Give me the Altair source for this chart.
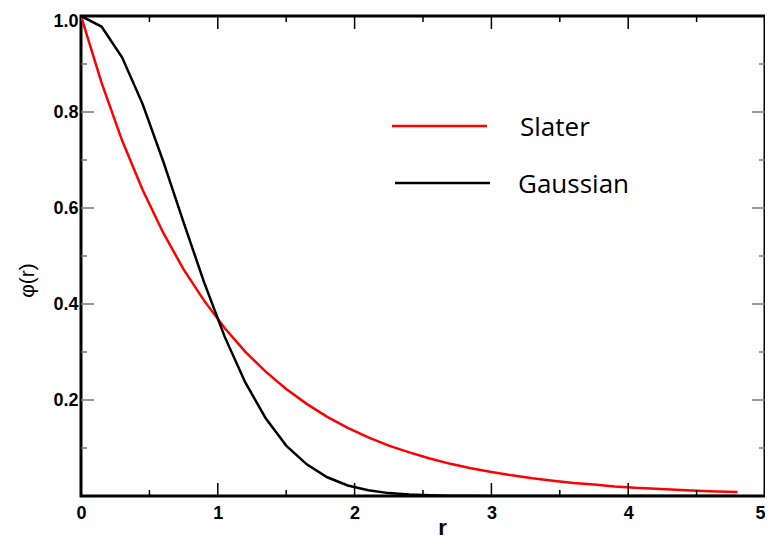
import altair as alt
import pandas as pd

# values
r_vals = [0.0, 0.15, 0.3, 0.45, 0.6, 0.75, 0.9, 1.05, 1.2, 1.35, 1.5, 1.65, 1.8, 1.95,
          2.1, 2.25, 2.4, 2.55, 2.7, 2.85, 3.0, 3.15, 3.3, 3.45, 3.6, 3.75, 3.9, 4.05,
          4.2, 4.35, 4.5, 4.65, 4.8]
slater = [1.0, 0.861, 0.741, 0.638, 0.549, 0.472, 0.407, 0.350, 0.301, 0.259, 0.223,
          0.192, 0.165, 0.142, 0.122, 0.105, 0.091, 0.078, 0.067, 0.058, 0.050, 0.043,
          0.037, 0.032, 0.027, 0.024, 0.020, 0.017, 0.015, 0.013, 0.011, 0.0096, 0.0082]
gaussian = [1.0, 0.978, 0.914, 0.817, 0.698, 0.570, 0.445, 0.332, 0.237, 0.162, 0.105,
            0.066, 0.039, 0.022, 0.012, 0.006, 0.003, 0.0015, 0.0007, 0.0003, 0.0001,
            0.0, 0.0, 0.0, 0.0, 0.0, 0.0, 0.0, 0.0, 0.0, 0.0, 0.0, 0.0]
series_names = ["Slater", "Gaussian"]
series_colors = ["#ff0000", "#000000"]

x_major = [1, 2, 3, 4]
x_minor = [0.5, 1.5, 2.5, 3.5, 4.5]
y_major = [0.2, 0.4, 0.6, 0.8]
y_minor = [0.1, 0.3, 0.5, 0.7, 0.9]
x_labels = [0, 1, 2, 3, 4, 5]
y_labels = [0.2, 0.4, 0.6, 0.8, 1.0]

W, H = 684, 480

df = pd.DataFrame({
    "r": r_vals * 2,
    "phi": slater + gaussian,
    "series": [series_names[0]] * len(r_vals) + [series_names[1]] * len(r_vals),
})

xscale = alt.Scale(domain=[0, 5], nice=False, zero=False)
yscale = alt.Scale(domain=[0, 1], nice=False, zero=False)

lines = alt.Chart(df).mark_line(strokeWidth=2.5, clip=True).encode(
    x=alt.X("r:Q", scale=xscale,
            axis=alt.Axis(values=x_labels, format="d", title="r", grid=False, domain=False,
                          ticks=False, labelFont="Liberation Sans", labelFontWeight="bold",
                          labelFontSize=18, labelColor="black", labelPadding=8,
                          labelAlign=alt.expr("datum.value >= 5 ? 'right' : 'center'"),
                          titleFont="Liberation Sans", titleFontWeight="bold", titleFontSize=22,
                          titleColor="black", titleX=361, titleY=38, titleBaseline="alphabetic",
                          labelFlush=False)),
    y=alt.Y("phi:Q", scale=yscale,
            axis=alt.Axis(values=y_labels, format=".1f", title="φ(r)", grid=False, domain=False,
                          ticks=False, labelFont="Liberation Sans", labelFontWeight="bold",
                          labelFontSize=18, labelColor="black", labelPadding=3,
                          titleFont="Liberation Sans", titleFontWeight="normal", titleFontSize=21,
                          titleColor="black", titleX=-54, titleY=264, titleAngle=270,
                          titleBaseline="middle", titleAlign="center",
                          labelFlush=True, labelFlushOffset=4)),
    color=alt.Color("series:N", scale=alt.Scale(domain=series_names, range=series_colors),
                    legend=None),
    detail="series:N",
)

xmaj = pd.DataFrame({"x": x_major})
xmin = pd.DataFrame({"x": x_minor})
ymaj = pd.DataFrame({"y": y_major})
ymin = pd.DataFrame({"y": y_minor})

def xticks(data, length, color):
    bottom = alt.Chart(data).mark_rule(color=color, strokeWidth=1.5).encode(
        x=alt.X("x:Q", scale=xscale), y=alt.value(H), y2=alt.value(H - length))
    top = alt.Chart(data).mark_rule(color=color, strokeWidth=1.5).encode(
        x=alt.X("x:Q", scale=xscale), y=alt.value(0), y2=alt.value(length))
    return bottom + top

def yticks(data, length, color):
    left = alt.Chart(data).mark_rule(color=color, strokeWidth=1.5).encode(
        y=alt.Y("y:Q", scale=yscale), x=alt.value(0), x2=alt.value(length))
    right = alt.Chart(data).mark_rule(color=color, strokeWidth=1.5).encode(
        y=alt.Y("y:Q", scale=yscale), x=alt.value(W), x2=alt.value(W - length))
    return left + right

ticks = (xticks(xmaj, 13, "black") + xticks(xmin, 6, "black")
         + yticks(ymaj, 13, "#777777") + yticks(ymin, 6, "#777777"))

leg_layers = []
leg_rows = [110, 167]
leg_text_x = [439, 437]
leg_line_x = [(311, 406), (314, 409)]
for name, col, yy, tx, lx in zip(series_names, series_colors, leg_rows, leg_text_x, leg_line_x):
    d = pd.DataFrame({"series": [name]})
    leg_layers.append(alt.Chart(d).mark_rule(color=col, strokeWidth=2.5).encode(
        x=alt.value(lx[0]), x2=alt.value(lx[1]), y=alt.value(yy)))
    leg_layers.append(alt.Chart(d).mark_text(
        align="left", baseline="middle", font="Open Sans", fontSize=26, color="black").encode(
        text="series:N", x=alt.value(tx), y=alt.value(yy + 2)))

chart = alt.layer(lines, ticks, *leg_layers).properties(
    width=W, height=H,
    autosize=alt.AutoSizeParams(type="none"),
    padding={"left": 73, "top": 8, "right": 0, "bottom": 43},
).configure(background="white").configure_view(stroke="black", strokeWidth=3)

chart.save("out.html", embed_options={"renderer": "svg", "actions": False})
